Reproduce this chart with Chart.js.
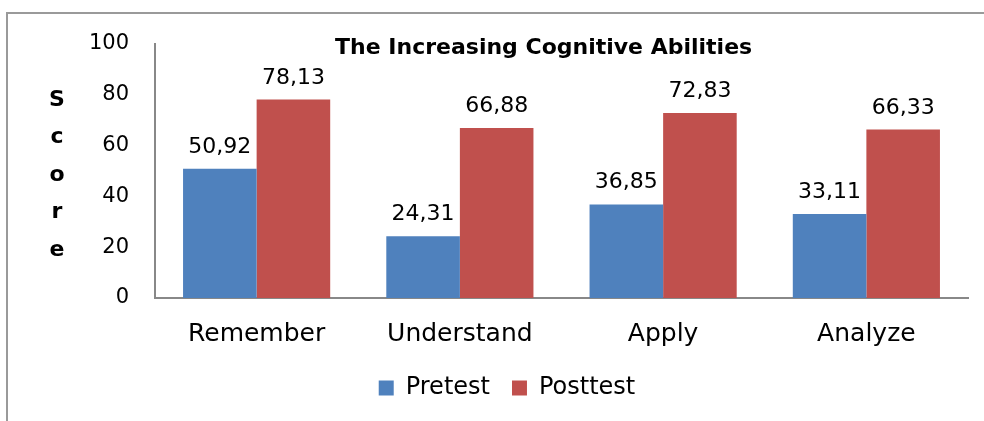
<!DOCTYPE html>
<html>
<head>
<meta charset="utf-8">
<script src="https://cdn.jsdelivr.net/npm/chart.js@4.4.1/dist/chart.umd.min.js"></script>
<style>
  html, body { margin:0; padding:0; background:#fff; overflow:hidden; }
  #wrap { position:relative; width:984px; height:421px; }
  #frame { position:absolute; left:6px; top:12px; width:1100px; height:600px; border:2px solid #9a9a9a; pointer-events:none; }
  canvas { position:absolute; left:0; top:0; }
</style>
</head>
<body>
<div id="wrap">
  <div id="frame"></div>
  <canvas id="chart" width="984" height="421"></canvas>
</div>
<script>
// categories and series
const categories = ["Remember", "Understand", "Apply", "Analyze"];
const pretest = [50.92, 24.31, 36.85, 33.11];
const posttest = [78.13, 66.88, 72.83, 66.33];
const yTicks = [0, 20, 40, 60, 80, 100];

const FONT = "'DejaVu Sans', sans-serif";

function fmt(v){ return v.toFixed(2).replace('.', ','); }

// value labels above bars + title + stacked axis title
const overlay = {
  id: "overlay",
  afterDatasetsDraw(chart){
    const ctx = chart.ctx;
    ctx.save();
    ctx.fillStyle = "#000";
    ctx.font = "22px " + FONT;
    ctx.textAlign = "center";
    ctx.textBaseline = "alphabetic";
    chart.data.datasets.forEach((ds, i) => {
      chart.getDatasetMeta(i).data.forEach((bar, j) => {
        ctx.fillText(fmt(ds.data[j]), bar.x, bar.y - 16);
      });
    });
    const area = chart.chartArea;
    ctx.font = "bold 22px " + FONT;
    ctx.textBaseline = "middle";
    ctx.fillText("The Increasing Cognitive Abilities", area.left + area.width * 0.478, area.top + 4);
    const letters = "Score".split("");
    const mid = (area.top + area.bottom) / 2 + 4;
    letters.forEach((ch, k) => {
      ctx.fillText(ch, 57, mid + (k - 2) * 37.5);
    });
    ctx.restore();
  }
};

new Chart(document.getElementById("chart"), {
  type: "bar",
  data: {
    labels: categories,
    datasets: [
      { label: "Pretest", data: pretest, backgroundColor: "#4F81BD" },
      { label: "Posttest", data: posttest, backgroundColor: "#C0504D" }
    ]
  },
  options: {
    responsive: false,
    animation: false,
    layout: { padding: { left: 46, right: 16, top: 44, bottom: 11 } },
    datasets: { bar: { categoryPercentage: 0.724, barPercentage: 1 } },
    plugins: {
      legend: {
        position: "bottom",
        labels: {
          boxWidth: 15, boxHeight: 15, padding: 22, color: "#000",
          font: { family: FONT, size: 24 }
        }
      },
      tooltip: { enabled: false },
      title: { display: false }
    },
    scales: {
      x: {
        grid: { display: false, drawTicks: false },
        border: { display: true, color: "#888", width: 2 },
        ticks: { color: "#000", padding: 21, font: { family: FONT, size: 25 } },
        afterFit(s){ s.height = 56; }
      },
      y: {
        min: 0, max: 100,
        afterBuildTicks(s){ s.ticks = yTicks.map(v => ({ value: v })); },
        grid: { display: false, drawTicks: false },
        border: { display: true, color: "#888", width: 2 },
        ticks: { color: "#000", padding: 26, font: { family: FONT, size: 21 } },
        afterFit(s){ s.width = 109; }
      }
    }
  },
  plugins: [overlay]
});
</script>
</body>
</html>
